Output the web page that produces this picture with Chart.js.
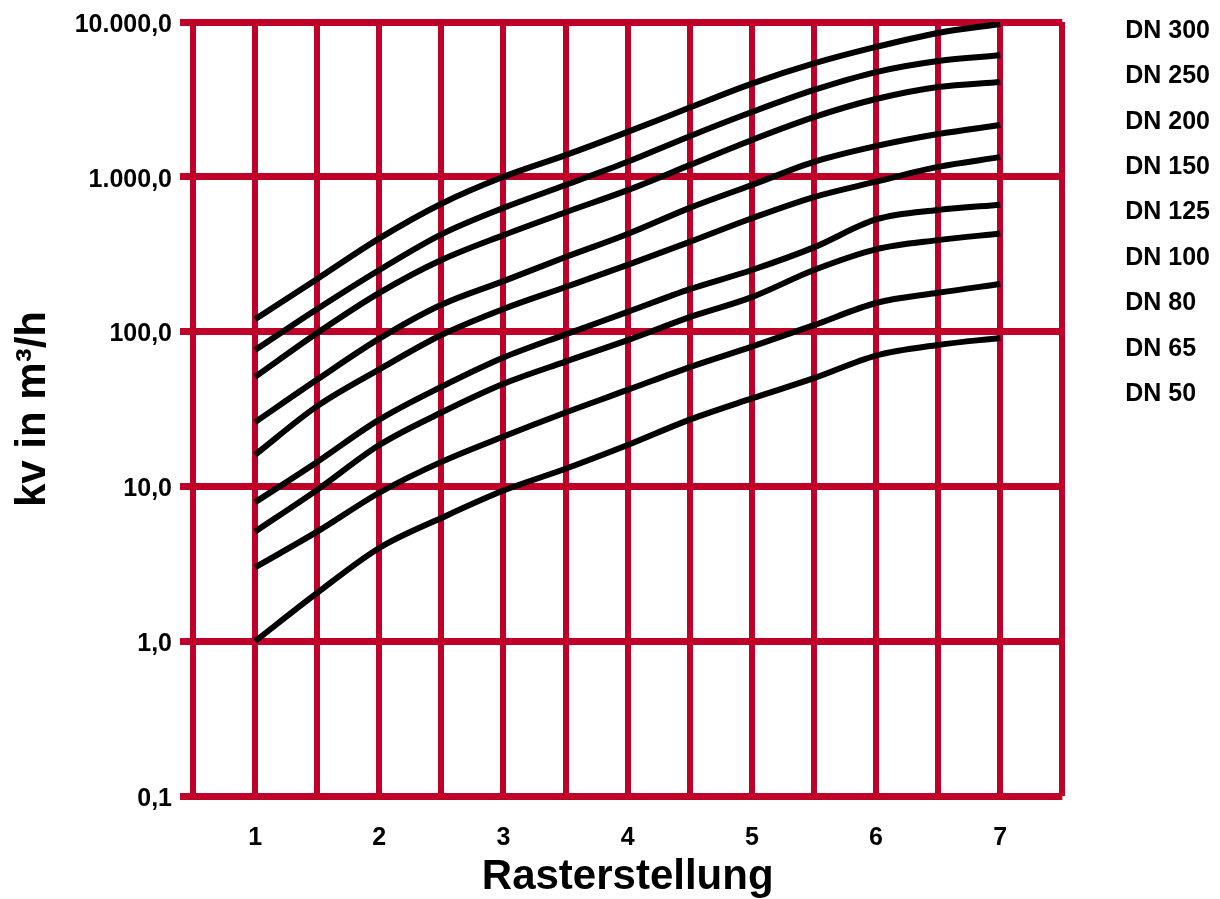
<!DOCTYPE html>
<html lang="de">
<head>
<meta charset="utf-8">
<title>kv Rasterstellung</title>
<script src="https://cdn.jsdelivr.net/npm/chart.js@4.4.1/dist/chart.umd.min.js"></script>
<style>
  html, body { margin: 0; padding: 0; background: #fff; }
  canvas { display: block; }
</style>
</head>
<body>
<canvas id="myChart" width="1220" height="899"></canvas>
<script>
// Rasterstellung, gleiche Stuetzstellen fuer alle Kurven
const positions = [1, 1.5, 2, 2.5, 3, 3.5, 4, 4.5, 5, 5.5, 6, 6.5, 7]

// kv in m3/h
const dn300 = [120, 219, 400, 670, 1000, 1380, 1950, 2800, 4000, 5400, 6900, 8500, 9700]
const dn250 = [76, 140, 250, 425, 630, 885, 1250, 1830, 2620, 3640, 4750, 5600, 6100]
const dn200 = [51, 98, 178, 290, 420, 590, 820, 1190, 1730, 2430, 3180, 3800, 4100]
const dn150 = [26, 49, 90, 149, 212, 303, 427, 630, 885, 1250, 1580, 1890, 2160]
const dn125 = [16, 33, 57, 95, 140, 194, 270, 380, 540, 740, 930, 1160, 1340]
const dn100 = [7.9, 14.4, 27, 44, 68, 96, 134, 188, 250, 350, 530, 610, 660]
const dn80 = [5.1, 9.5, 18.5, 30, 46, 64, 88, 124, 167, 250, 340, 390, 430]
const dn65 = [3.0, 5.1, 9.1, 14.4, 21, 30, 42, 59, 80, 110, 153, 178, 203]
const dn50 = [1.0, 2.05, 4.0, 6.25, 9.4, 13, 18.5, 27, 37, 50, 70, 82, 91]

const seriesNames = ['DN 300', 'DN 250', 'DN 200', 'DN 150', 'DN 125', 'DN 100', 'DN 80', 'DN 65', 'DN 50']
const seriesValues = [dn300, dn250, dn200, dn150, dn125, dn100, dn80, dn65, dn50]

const xTicks = [1, 2, 3, 4, 5, 6, 7]
const xTickLabels = ['1', '2', '3', '4', '5', '6', '7']
const yTicks = [0.1, 1, 10, 100, 1000, 10000]
const yTickLabels = ['0,1', '1,0', '10,0', '100,0', '1.000,0', '10.000,0']

const red = '#bf0029'

Chart.defaults.font.family = "'Liberation Sans', Arial, Helvetica, sans-serif"
Chart.defaults.font.weight = 'bold'
Chart.defaults.color = '#000'

let datasets = []
for (let k = 0; k < seriesNames.length; k++) {
  datasets.push({
    label: seriesNames[k],
    data: seriesValues[k].map((v, i) => ({ x: positions[i], y: v })),
    borderColor: '#000',
    backgroundColor: '#000',
    borderWidth: 6,
    pointRadius: 0,
    cubicInterpolationMode: 'monotone',
    fill: false
  })
}

const config = {
  type: 'line',
  data: { datasets: datasets },
  options: {
    responsive: false,
    animation: false,
    layout: { padding: 0 },
    scales: {
      x: {
        type: 'linear',
        min: 0.5,
        max: 7.5,
        grid: { color: red, lineWidth: 6, drawTicks: false },
        border: { display: false },
        ticks: {
          stepSize: 0.5,
          autoSkip: false,
          maxRotation: 0,
          padding: 30,
          font: { size: 25, weight: 'bold', lineHeight: 1 },
          callback: (value) => {
            const i = xTicks.indexOf(value)
            return i >= 0 ? xTickLabels[i] : ''
          }
        },
        title: {
          display: true,
          text: 'Rasterstellung',
          font: { size: 42, weight: 'bold', lineHeight: 1 },
          padding: { top: 0, bottom: 1 }
        },
        afterFit: (scale) => {
          scale.height = 103
          scale.paddingLeft = 0
          scale.paddingRight = 0
        }
      },
      y: {
        type: 'logarithmic',
        min: 0.1,
        max: 10000,
        grid: { color: red, lineWidth: 7, tickLength: 13 },
        border: { display: false },
        afterBuildTicks: (scale) => {
          scale.ticks = yTicks.map(v => ({ value: v }))
        },
        ticks: {
          padding: 8,
          // leere erste Zeile schiebt den Text ein paar Pixel nach unten
          font: { size: 25, weight: 'bold', lineHeight: '6px' },
          callback: (value, index) => ['', yTickLabels[index]]
        },
        title: {
          display: true,
          text: 'kv in m³/h',
          font: { size: 42, weight: 'bold', lineHeight: 1 },
          padding: { top: 12, bottom: 0 }
        },
        afterFit: (scale) => {
          scale.width = 193
          scale.paddingTop = 22
          scale.paddingBottom = 0
        }
      }
    },
    plugins: {
      tooltip: { enabled: false },
      legend: {
        position: 'right',
        align: 'start',
        labels: {
          boxWidth: 34,
          boxHeight: 29,
          padding: 16.4,
          color: '#000',
          font: { size: 25, weight: 'bold' },
          // nur Text, keine Farbkaestchen
          generateLabels: (chart) => Chart.defaults.plugins.legend.labels.generateLabels(chart).map(l => {
            l.fillStyle = 'rgba(0,0,0,0)'
            l.strokeStyle = 'rgba(0,0,0,0)'
            l.lineWidth = 0
            return l
          })
        }
      }
    }
  }
}

const ctx = document.getElementById('myChart')
const kvChart = new Chart(ctx, config)
</script>
</body>
</html>
